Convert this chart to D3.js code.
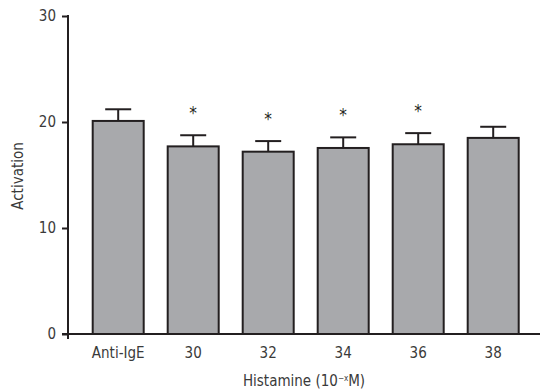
<!DOCTYPE html>
<html>
<head>
<meta charset="utf-8">
<script src="https://cdn.jsdelivr.net/npm/d3@7"></script>
<style>
  body { margin: 0; background: #fff; }
  text { font-family: "Liberation Sans Narrow", "DejaVu Sans Condensed", "Roboto Condensed", sans-serif; fill: #3a3a3a; }
</style>
</head>
<body>
<script>
const categories = ["Anti-IgE", "30", "32", "34", "36", "38"];
const means = [20.1, 17.7, 17.2, 17.55, 17.9, 18.5];
const sems = [1.1, 1.05, 1.0, 1.0, 1.05, 1.05];
const significant = [false, true, true, true, true, false];
const yTicks = [0, 10, 20, 30];

const svg = d3.select("body").append("svg")
    .attr("width", 542)
    .attr("height", 392);

const margin = {top: 16, right: 2, bottom: 58, left: 68};
const width = 542 - margin.left - margin.right;
const height = 392 - margin.top - margin.bottom;
const g = svg.append("g").attr("transform", "translate(" + margin.left + "," + margin.top + ")");

const x = d3.scaleBand()
    .domain(categories)
    .range([0.7, 474.7])
    .paddingInner(0.32)
    .paddingOuter(0.32);
const y = d3.scaleLinear().domain([0, 30]).range([height, 0]);

const data = categories.map((c, i) => ({cat: c, mean: means[i], sem: sems[i], sig: significant[i]}));

// bars
g.selectAll("rect.bar")
    .data(data)
    .enter()
    .append("rect")
        .attr("class", "bar")
        .attr("x", d => x(d.cat))
        .attr("y", d => y(d.mean))
        .attr("width", x.bandwidth())
        .attr("height", d => y(0) - y(d.mean))
        .attr("fill", "#a8a9ac")
        .attr("stroke", "#231f20")
        .attr("stroke-width", 2);

// error bars (upper only)
const cx = d => x(d.cat) + x.bandwidth() / 2;
g.selectAll("line.err")
    .data(data)
    .enter()
    .append("line")
        .attr("x1", cx).attr("x2", cx)
        .attr("y1", d => y(d.mean))
        .attr("y2", d => y(d.mean + d.sem))
        .attr("stroke", "#231f20")
        .attr("stroke-width", 2);
g.selectAll("line.cap")
    .data(data)
    .enter()
    .append("line")
        .attr("x1", d => cx(d) - 13).attr("x2", d => cx(d) + 13)
        .attr("y1", d => y(d.mean + d.sem))
        .attr("y2", d => y(d.mean + d.sem))
        .attr("stroke", "#231f20")
        .attr("stroke-width", 2);

// significance stars
g.selectAll("text.star")
    .data(data.filter(d => d.sig))
    .enter()
    .append("text")
        .attr("x", cx)
        .attr("y", d => y(d.mean + d.sem) - 16)
        .attr("text-anchor", "middle")
        .style("font-size", "17px")
        .style("fill", "#231f20")
        .text("*");

// x axis baseline
g.append("line")
    .attr("x1", -6).attr("x2", width)
    .attr("y1", y(0)).attr("y2", y(0))
    .attr("stroke", "#231f20")
    .attr("stroke-width", 2);

// y axis
const yAxis = g.append("g")
    .call(d3.axisLeft(y).tickValues(yTicks).tickSize(6).tickPadding(6));
yAxis.select(".domain").remove();
yAxis.selectAll(".tick line").attr("stroke", "#231f20").attr("stroke-width", 2);
yAxis.selectAll(".tick text").style("font-size", "15px").style("fill", "#3a3a3a");
g.append("line")
    .attr("x1", 0).attr("x2", 0)
    .attr("y1", y(30) - 1).attr("y2", y(0) + 5)
    .attr("stroke", "#231f20")
    .attr("stroke-width", 2);

// category labels
g.selectAll("text.cat")
    .data(data)
    .enter()
    .append("text")
        .attr("class", "cat")
        .attr("x", cx)
        .attr("y", y(0) + 24)
        .attr("text-anchor", "middle")
        .style("font-size", "15px")
        .text(d => d.cat);

// axis titles
const xt = svg.append("text")
    .attr("x", 304)
    .attr("y", 386)
    .attr("text-anchor", "middle")
    .style("font-size", "15px");
xt.append("tspan").text("Histamine (10");
xt.append("tspan").attr("dy", -5).style("font-size", "8px").text("\u2212x");
xt.append("tspan").attr("dy", 5).text("M)");

svg.append("text")
    .attr("transform", "translate(23,176) rotate(-90)")
    .attr("text-anchor", "middle")
    .style("font-size", "15px")
    .text("Activation");
</script>
</body>
</html>
